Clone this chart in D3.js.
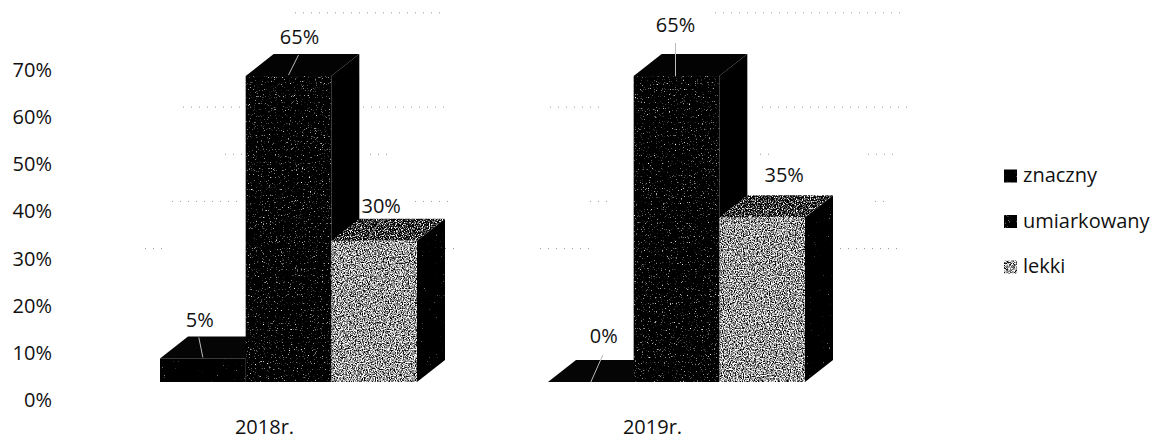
<!DOCTYPE html>
<html><head><meta charset="utf-8"><script src="https://d3js.org/d3.v7.min.js"></script>
<style>html,body{margin:0;background:#fff}svg{display:block}text{font-family:"Open Sans",sans-serif;fill:#111}</style></head>
<body><svg id="c" width="1154" height="439"></svg>
<script>
const years=["2018r.","2019r."];
const severities=["znaczny","umiarkowany","lekki"];
const znaczny=[5,0];
const umiarkowany=[65,65];
const lekki=[30,35];
const axisTicks=[0,10,20,30,40,50,60,70];
const svg=d3.select("#c");
const defs=svg.append("defs");

// scanned-print grain: noise thresholded to a grey level
function grain(id,k,c,seed){
  const f=defs.append("filter").attr("id",id).attr("x",0).attr("y",0).attr("width","100%").attr("height","100%")
    .attr("color-interpolation-filters","sRGB");
  f.append("feTurbulence").attr("type","fractalNoise").attr("baseFrequency",0.85).attr("numOctaves",2).attr("seed",seed).attr("result","n");
  const row=`${k} 0 0 0 ${c}`;
  f.append("feColorMatrix").attr("in","n").attr("type","matrix")
    .attr("values",`${row} ${row} ${row} 0 0 0 0 1`).attr("result","g");
  f.append("feComposite").attr("in","g").attr("in2","SourceAlpha").attr("operator","in");
}
grain("gLight",3,-0.9,3);
grain("gMid",4.5,-2.9,5);
grain("gDark",5,-3.7,7);
grain("gTop",4,-1.85,9);
grain("gSide",5,-3.8,11);

const y=d3.scaleLinear().domain([0,70]).range([382,52.5]);    // bar fronts
const yAxis=d3.scaleLinear().domain([0,70]).range([400,70]);  // axis text
const yGrid=v=>yAxis(v)-10;                                   // back wall rules
const x0=d3.scalePoint().domain(years).range([160,548]);
const x1=d3.scaleBand().domain(severities).range([0,257]);
const dx=28,dy=22;

// faint, mostly dropped-out gridlines
const fragments=[[80,295,445],[80,715,900],[60,183,240],[60,363,450],[60,550,600],[60,762,908],
  [50,225,242],[50,370,392],[50,760,775],[50,868,895],[40,172,240],[40,415,452],[40,590,608],[40,875,885],
  [30,145,166],[30,445,456],[30,540,596],[30,840,900]];
svg.append("g").selectAll("line").data(fragments).enter().append("line")
  .attr("x1",d=>d[1]).attr("x2",d=>d[2]).attr("y1",d=>yGrid(d[0])).attr("y2",d=>yGrid(d[0]))
  .attr("stroke","#999").attr("stroke-dasharray","1 7");

// axis labels
svg.append("g").selectAll("text").data(axisTicks).enter().append("text")
  .attr("x",52).attr("y",d=>yAxis(d)).attr("dy","0.35em").attr("text-anchor","end").attr("font-size",20).text(d=>d+"%");

const series=[
 {name:"znaczny",vals:znaczny,front:["#050505","gDark"],top:["#050505",null],side:["#000",null]},
 {name:"umiarkowany",vals:umiarkowany,front:["#111","gMid"],top:["#030303",null],side:["#000",null]},
 {name:"lekki",vals:lekki,front:["#999","gLight"],top:["#333","gTop"],side:["#060606","gSide"]}];

// label centre/baseline and leader ends, relative to the bar's top-back and front-top
const labelLayout={
 "znaczny":[{tx:-3,ty:-9,a:[-4,1],b:[0,21]},{tx:13,ty:-17,a:[12,-5],b:[0,22]}],
 "umiarkowany":[{tx:11,ty:-10,a:[10,1],b:[0,21]},{tx:-1,ty:-22,a:[-1,-11],b:[-1,22]}],
 "lekki":[{tx:7,ty:-6,a:[7,1],b:[-6,20]},{tx:22,ty:-13,a:[18,2],b:[1,22]}]};

years.forEach((yr,i)=>{
  const g=svg.append("g");
  const poly=pts=>pts.map(p=>p.join(",")).join(" ");
  series.forEach(s=>{
    const v=s.vals[i],xl=x0(yr)+x1(s.name),w=x1.bandwidth(),xr=xl+w,t=y(v),b=y(0);
    const side=[[xr,b],[xr+dx,b-dy],[xr+dx,t-dy],[xr,t]];
    const top=[[xl,t],[xl+dx,t-dy],[xr+dx,t-dy],[xr,t]];
    const sel=g.append("polygon").attr("points",poly(side)).attr("fill",s.side[0]);
    if(s.side[1])sel.attr("filter",`url(#${s.side[1]})`);
    const st=g.append("polygon").attr("points",poly(top)).attr("fill",s.top[0]);
    if(s.top[1])st.attr("filter",`url(#${s.top[1]})`);
    if(v>0)g.append("rect").attr("x",xl).attr("y",t).attr("width",w).attr("height",b-t)
      .attr("fill",s.front[0]).attr("filter",`url(#${s.front[1]})`);
  });
  series.forEach(s=>{
    const v=s.vals[i],xl=x0(yr)+x1(s.name),cx=xl+x1.bandwidth()/2,t=y(v),L=labelLayout[s.name][i];
    g.append("line").attr("x1",cx+L.a[0]).attr("y1",t-dy+L.a[1]).attr("x2",cx+L.b[0]).attr("y2",t-dy+L.b[1])
      .attr("stroke",s.name==="lekki"?"#888":"#bbb").attr("stroke-width",1);
    g.append("text").attr("x",cx+L.tx).attr("y",t-dy+L.ty).attr("text-anchor","middle").attr("font-size",20).text(v+"%");
  });
  g.append("text").attr("x",x0(yr)+x1.bandwidth()*1.5-24).attr("y",434).attr("text-anchor","middle").attr("font-size",20).text(yr);
});

// legend
const legY=d3.scalePoint().domain(severities).range([176,267]);
const legFill={znaczny:["#0a0a0a","gDark"],umiarkowany:["#222","gMid"],lekki:["#999","gLight"]};
severities.forEach(n=>{
  svg.append("rect").attr("x",1004).attr("y",legY(n)-6.5).attr("width",13).attr("height",13)
    .attr("fill",legFill[n][0]).attr("filter",`url(#${legFill[n][1]})`);
  svg.append("text").attr("x",1023).attr("y",legY(n)).attr("dy","0.32em").attr("font-size",20).text(n);
});
</script></body></html>
